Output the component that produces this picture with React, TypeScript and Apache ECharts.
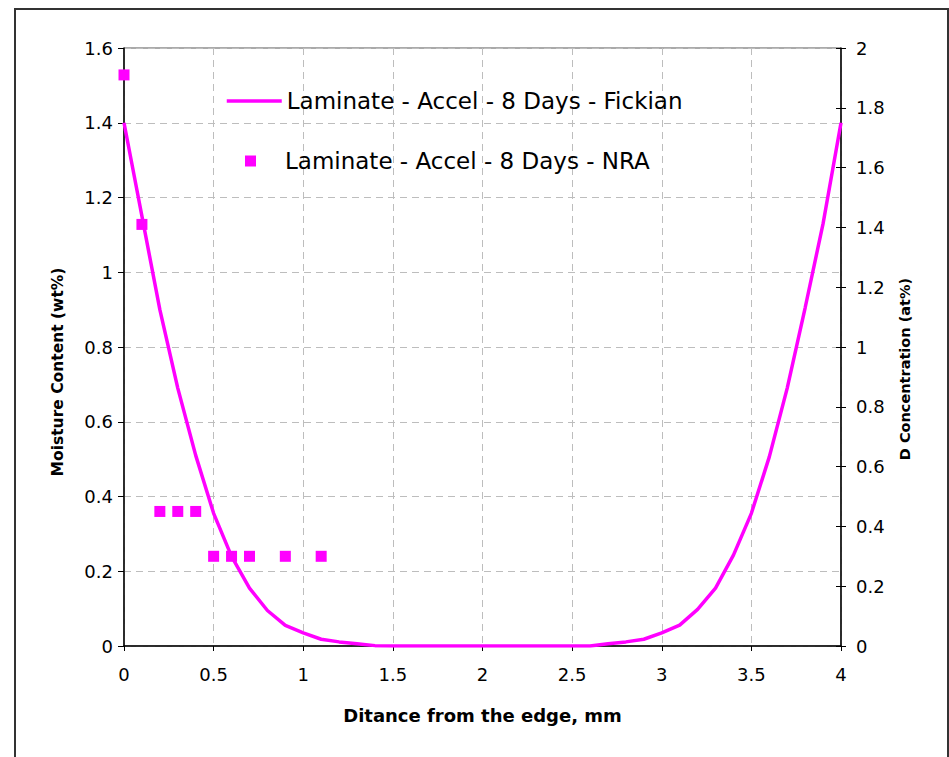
import React, { useEffect, useRef } from "react";
import * as echarts from "echarts";

// Fickian model curve (left axis, wt%)
const distance = [
  0, 0.1, 0.2, 0.3, 0.4, 0.5, 0.6, 0.7, 0.8, 0.9, 1.0, 1.1, 1.2, 1.3, 1.4, 1.5, 1.6, 1.7, 1.8, 1.9, 2.0,
  2.1, 2.2, 2.3, 2.4, 2.5, 2.6, 2.7, 2.8, 2.9, 3.0, 3.1, 3.2, 3.3, 3.4, 3.5, 3.6, 3.7, 3.8, 3.9, 4.0,
];
const fickian = [
  1.4, 1.15, 0.9, 0.69, 0.51, 0.355, 0.24, 0.155, 0.095, 0.055, 0.035, 0.018, 0.011, 0.006, 0.001, 0, 0, 0, 0, 0, 0,
  0, 0, 0, 0, 0, 0, 0.006, 0.011, 0.018, 0.035, 0.056, 0.098, 0.155, 0.243, 0.355, 0.506, 0.69, 0.905, 1.13, 1.4,
];

// NRA measurements (right axis, at%)
const nraDistance = [0, 0.1, 0.2, 0.3, 0.4, 0.5, 0.6, 0.7, 0.9, 1.1];
const nraConcentration = [1.91, 1.41, 0.45, 0.45, 0.45, 0.3, 0.3, 0.3, 0.3, 0.3];

const FICK = "Laminate - Accel - 8 Days - Fickian";
const NRA = "Laminate - Accel - 8 Days - NRA";
const X_TITLE = "Ditance from the edge, mm";
const Y_LEFT_TITLE = "Moisture Content (wt%)";
const Y_RIGHT_TITLE = "D Concentration (at%)";

const FONT = "DejaVu Sans";
const MAGENTA = "#FF00FF";

export default function App() {
  const ref = useRef<HTMLDivElement>(null);

  useEffect(() => {
    if (!ref.current) return;
    const chart = echarts.init(ref.current, null, { renderer: "svg" });
    const gridDash = { color: "#bdbdbd", type: [7, 5] as any, width: 1 };
    const option: any = {
      animation: false,
      backgroundColor: "#ffffff",
      textStyle: { fontFamily: FONT, color: "#000" },
      graphic: [
        {
          type: "polyline",
          silent: true,
          shape: { points: [[15, 757], [15, 9], [948, 9], [948, 757]] },
          style: { stroke: "#333333", lineWidth: 2, fill: null },
        },
      ],
      grid: {
        left: 124,
        right: 108,
        top: 48,
        bottom: 111,
        show: true,
        borderColor: "#555555",
        borderWidth: 1,
      },
      legend: [
        {
          data: [{ name: FICK, itemStyle: { opacity: 0 } }],
          left: 225,
          top: 88,
          padding: 0,
          itemWidth: 55,
          itemHeight: 14,
          selectedMode: false,
          lineStyle: { width: 3.5, color: MAGENTA },
          textStyle: { fontFamily: FONT, fontSize: 23, color: "#000", lineHeight: 26 },
        },
        {
          data: [{ name: NRA, icon: "rect" }],
          left: 245,
          top: 148,
          padding: 0,
          itemWidth: 11,
          itemHeight: 11,
          selectedMode: false,
          itemStyle: { color: MAGENTA, opacity: 1 },
          textStyle: {
            fontFamily: FONT,
            fontSize: 23,
            color: "#000",
            lineHeight: 26,
            padding: [0, 0, 0, 24],
          },
        },
      ],
      xAxis: {
        type: "value",
        min: 0,
        max: 4,
        interval: 0.5,
        name: X_TITLE,
        nameLocation: "middle",
        nameGap: 60,
        nameTextStyle: { fontFamily: FONT, fontSize: 18, fontWeight: "bold", color: "#000" },
        axisLine: { show: true, lineStyle: { color: "#000", width: 1.5 } },
        axisTick: { show: true, length: 5, lineStyle: { color: "#000" } },
        axisLabel: { margin: 19, fontSize: 18, color: "#000", fontFamily: FONT },
        splitLine: { show: true, lineStyle: gridDash },
      },
      yAxis: [
        {
          type: "value",
          min: 0,
          max: 1.6,
          interval: 0.2,
          position: "left",
          name: Y_LEFT_TITLE,
          nameLocation: "middle",
          nameGap: 58,
          nameTextStyle: {
            fontFamily: FONT,
            fontSize: 15.5,
            fontWeight: "bold",
            color: "#000",
            padding: [0, 50, 0, 0],
          },
          axisLine: { show: true, lineStyle: { color: "#000", width: 1.5 } },
          axisTick: { show: true, length: 6, lineStyle: { color: "#000" } },
          axisLabel: { margin: 11, fontSize: 18, color: "#000", fontFamily: FONT },
          splitLine: { show: true, lineStyle: gridDash },
        },
        {
          type: "value",
          min: 0,
          max: 2,
          interval: 0.2,
          position: "right",
          name: Y_RIGHT_TITLE,
          nameLocation: "middle",
          nameGap: 56,
          nameRotate: 90,
          nameTextStyle: {
            fontFamily: FONT,
            fontSize: 14.5,
            fontWeight: "bold",
            color: "#000",
            padding: [0, 44, 0, 0],
          },
          axisLine: { show: true, lineStyle: { color: "#000", width: 1.5 } },
          axisTick: { show: true, length: 5, lineStyle: { color: "#000" } },
          axisLabel: { margin: 15, fontSize: 18, color: "#000", fontFamily: FONT },
          splitLine: { show: false },
        },
        {
          type: "value",
          min: 0,
          max: 2,
          interval: 0.2,
          position: "right",
          axisLine: { show: false },
          axisTick: { show: true, inside: true, length: 5, lineStyle: { color: "#000" } },
          axisLabel: { show: false },
          splitLine: { show: false },
        },
      ],
      series: [
        {
          name: FICK,
          type: "line",
          yAxisIndex: 0,
          data: distance.map((d, i) => [d, fickian[i]]),
          showSymbol: false,
          symbol: "none",
          lineStyle: { color: MAGENTA, width: 3.5 },
          itemStyle: { color: MAGENTA },
          z: 2,
        },
        {
          name: NRA,
          type: "scatter",
          yAxisIndex: 1,
          data: nraDistance.map((d, i) => [d, nraConcentration[i]]),
          symbol: "rect",
          symbolSize: 11,
          itemStyle: { color: MAGENTA, opacity: 1 },
          z: 3,
        },
      ],
    };
    chart.setOption(option);
    return () => chart.dispose();
  }, []);

  return (
    <div
      ref={ref}
      style={{ position: "absolute", left: 0, top: 0, width: 949, height: 757, background: "#fff" }}
    />
  );
}
